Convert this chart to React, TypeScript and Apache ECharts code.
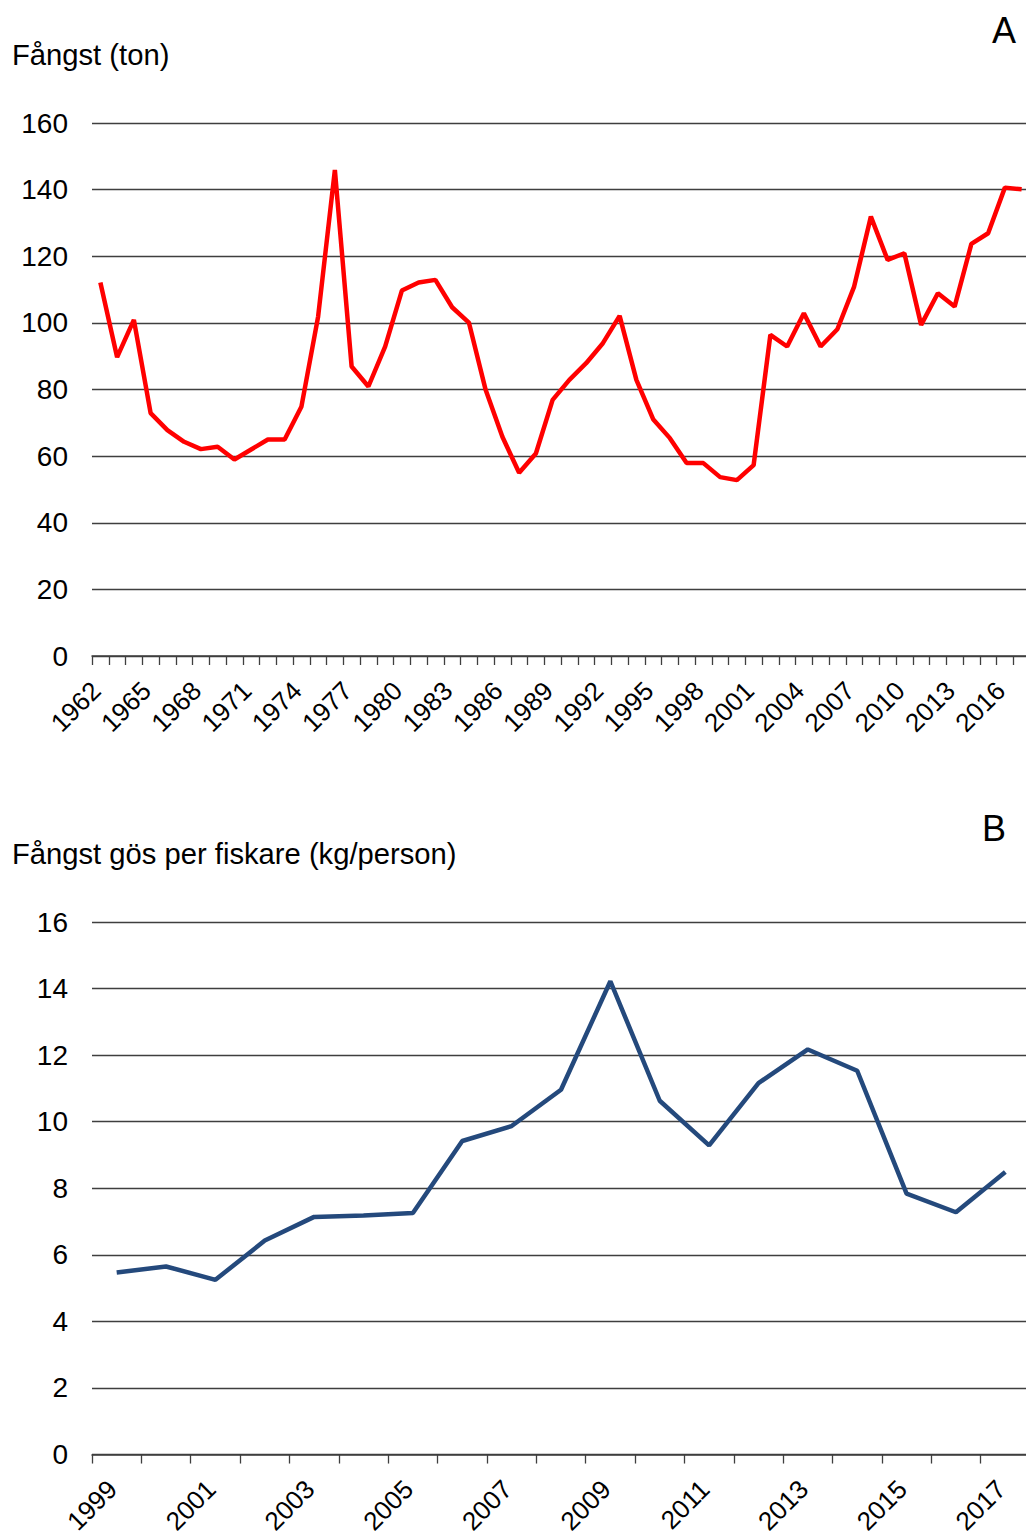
import React, { useEffect, useRef } from "react";
import * as echarts from "echarts";

const yearsA: string[] = [];
for (let y = 1962; y <= 2017; y++) yearsA.push(String(y));

const catchTon: number[] = [
  112.1, 89.7, 100.9, 72.9, 67.8, 64.3, 62.1, 62.8, 59.0, 62.0,
  65.0, 65.0, 74.8, 101.9, 145.9, 86.9, 80.9, 92.9, 109.7, 112.1,
  112.9, 104.7, 100.1, 79.9, 65.8, 55.0, 60.8, 76.9, 82.9, 87.9,
  93.9, 102.1, 82.9, 71.1, 65.4, 57.9, 57.9, 53.7, 52.8, 57.3,
  96.4, 92.9, 102.9, 92.9, 98.1, 110.9, 131.9, 118.9, 120.9, 99.4,
  108.9, 104.9, 123.7, 126.9, 140.6, 140.1,
];

const yearsB: string[] = [];
for (let y = 1999; y <= 2017; y++) yearsB.push(String(y));

const catchPerFisher: number[] = [
  5.47, 5.65, 5.25, 6.43, 7.14, 7.18, 7.26, 9.42, 9.87, 10.96,
  14.22, 10.63, 9.29, 11.16, 12.17, 11.53, 7.84, 7.28, 8.49,
];

const FONT = "'Liberation Sans', Arial, sans-serif";
const GRID_COLOR = "#3f3f3f";
const CHART_W = 1050;

export default function App() {
  const ref = useRef<HTMLDivElement>(null);

  useEffect(() => {
    document.body.style.margin = "0";
    const chart = echarts.init(ref.current!, undefined, { renderer: "svg" });

    const xAxisCommon = (data: string[], gridIndex: number, interval: number) => ({
      type: "category",
      gridIndex,
      data,
      boundaryGap: true,
      axisLine: { show: true, lineStyle: { color: GRID_COLOR, width: 1.5 } },
      axisTick: {
        show: true,
        interval: 0,
        length: 9,
        lineStyle: { color: GRID_COLOR, width: 1.3 },
      },
      axisLabel: {
        interval,
        rotate: 45,
        margin: 26,
        padding: [0, 6, 0, 0],
        color: "#000",
        fontFamily: FONT,
        fontSize: 26,
      },
    });

    const yAxisCommon = (gridIndex: number, max: number, interval: number) => ({
      type: "value",
      gridIndex,
      min: 0,
      max,
      interval,
      axisLine: { show: false },
      axisTick: { show: false },
      splitLine: { show: true, lineStyle: { color: GRID_COLOR, width: 1.3 } },
      axisLabel: {
        margin: 24,
        color: "#000",
        fontFamily: FONT,
        fontSize: 28,
      },
    });

    chart.setOption({
      animation: false,
      backgroundColor: "#fff",
      grid: [
        { left: 92, right: CHART_W - 92 - 938, top: 123, height: 533 },
        { left: 92, right: CHART_W - 92 - 938, top: 922, height: 533.5 },
      ],
      xAxis: [xAxisCommon(yearsA, 0, 2), xAxisCommon(yearsB, 1, 1)],
      yAxis: [yAxisCommon(0, 160, 20), yAxisCommon(1, 16, 2)],
      series: [
        {
          type: "line",
          xAxisIndex: 0,
          yAxisIndex: 0,
          data: catchTon,
          symbol: "none",
          lineStyle: { color: "#FF0000", width: 4.5 },
        },
        {
          type: "line",
          xAxisIndex: 1,
          yAxisIndex: 1,
          data: catchPerFisher,
          symbol: "none",
          lineStyle: { color: "#24497C", width: 4.5 },
        },
      ],
      graphic: [
        {
          type: "text",
          left: 12,
          top: 40,
          style: { text: "Fångst (ton)", font: `29.2px ${FONT}`, fill: "#000" },
        },
        {
          type: "text",
          left: 992,
          top: 12,
          style: { text: "A", font: `36px ${FONT}`, fill: "#000" },
        },
        {
          type: "text",
          left: 12,
          top: 839,
          style: {
            text: "Fångst gös per fiskare (kg/person)",
            font: `29.2px ${FONT}`,
            fill: "#000",
          },
        },
        {
          type: "text",
          left: 982,
          top: 810,
          style: { text: "B", font: `36px ${FONT}`, fill: "#000" },
        },
      ],
    });

    return () => chart.dispose();
  }, []);

  return (
    <div style={{ width: 1026, height: 1537, overflow: "hidden" }}>
      <div ref={ref} style={{ width: CHART_W, height: 1537 }} />
    </div>
  );
}
